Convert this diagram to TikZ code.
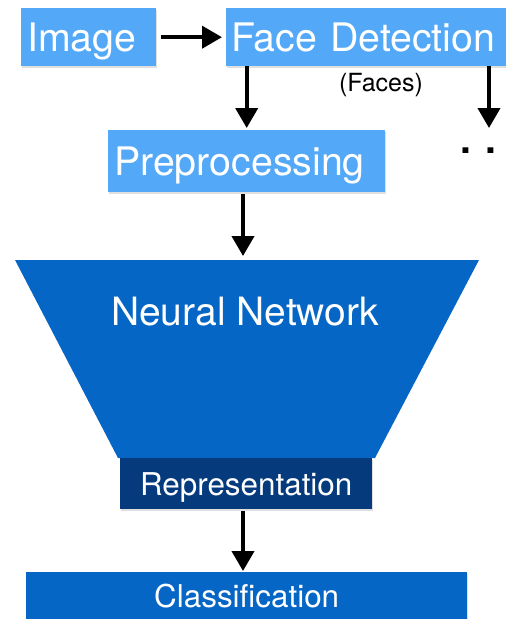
\documentclass[tikz,border=0pt]{standalone}
\usepackage{fontspec}
\setmainfont{TeX Gyre Heros}
\usetikzlibrary{arrows.meta,shadows}
\definecolor{lightblue}{RGB}{83,169,248}
\definecolor{nnblue}{RGB}{5,102,197}
\definecolor{reprblue}{RGB}{5,59,125}

\begin{document}
\begin{tikzpicture}[x=1pt,y=-1pt,
                every node/.style = {inner sep=0pt, text=white},
                light/.style = {fill=lightblue, anchor=north west, align=left,
                    font=\fontsize{39.3}{44}\selectfont, text height=28.3pt, text depth=0pt,
                    drop shadow={shadow xshift=1pt, shadow yshift=-1.5pt, opacity=.25}},
                dark/.style = {anchor=north west, font=\fontsize{31.4}{37}\selectfont,
                    text height=22.6pt, text depth=0pt,
                    drop shadow={shadow xshift=1pt, shadow yshift=-1.5pt, opacity=.25}},
                flow/.style = {line width=4pt, -{Triangle[width=22pt,length=20pt]}}]
                \useasboundingbox (0,0) rectangle (506,619);
                % input and detection
                \node[light, inner xsep=6pt, text width=123pt, minimum height=58pt] (image) at (21,8) {Image};
                \node[light, inner xsep=5pt, text width=270pt, minimum height=58pt] (facedet) at (226,8) {Face Detection};
                \node[text=black, font=\fontsize{25}{29}\selectfont] (faces) at (381,85) {(Faces)};
                \node[light, inner xsep=6pt, text width=265pt, minimum height=62pt] (preproc) at (108,130) {Preprocessing};
                \coordinate (more) at (489,128);
                \node[text=black, anchor=base, font=\fontsize{39}{44}\selectfont\bfseries] (dots) at (478.5,153) {. .};
                % network
                \fill[nnblue] (15,260) -- (479,260) -- (375,458) -- (118,458) -- cycle;
                \coordinate (nntop) at (243,256);
                \node[font=\fontsize{39}{44}\selectfont, text height=28pt, text depth=0pt] (nn) at (245,311) {Neural Network};
                \node[dark, fill=reprblue, minimum width=252pt, minimum height=51pt] (repr) at (120,458) {Representation};
                \node[dark, fill=nnblue, minimum width=441pt, minimum height=48pt] (classif) at (26,572) {Classification};
                % arrows
                \draw[flow, shorten <=5pt, shorten >=4pt] (image.east) -- (facedet.west);
                \draw[flow, shorten >=2pt] (facedet.south -| preproc.north) -- (preproc.north);
                \draw[flow] (facedet.south -| more) -- (more);
                \draw[flow, shorten <=2pt] (preproc.south -| nntop) -- (nntop);
                \draw[flow, shorten <=2pt, shorten >=1pt] (repr.south -| nntop) -- (classif.north -| nntop);
\end{tikzpicture}
\end{document}
